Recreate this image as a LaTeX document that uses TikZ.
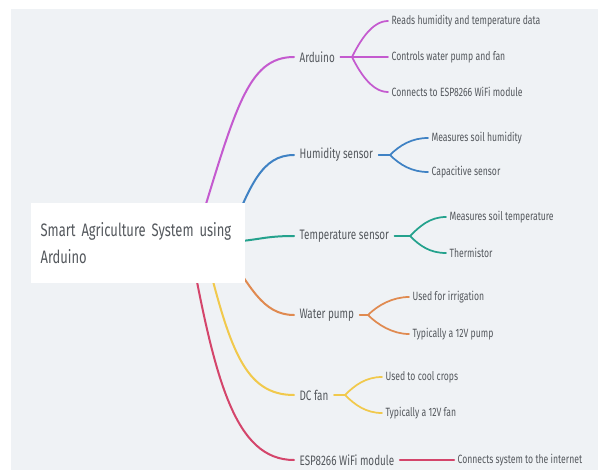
\documentclass[tikz,border=0pt]{standalone}
\usepackage{fontspec}
\setmainfont{Fira Sans}[FakeStretch=0.72]
\usetikzlibrary{positioning}
\definecolor{bg}{HTML}{EFF2F5}
\definecolor{txt}{HTML}{54585D}
\definecolor{ardc}{HTML}{C45ACF}
\definecolor{humc}{HTML}{3F82C4}
\definecolor{tempc}{HTML}{24A28D}
\definecolor{pumpc}{HTML}{E08A50}
\definecolor{fanc}{HTML}{F1C94C}
\definecolor{espc}{HTML}{D4456B}
\tikzstyle{rootbox} = [rectangle, fill=white, text=txt, align=left, text width=146pt, minimum height=60pt, inner xsep=7.25pt, font=\fontsize{13.5}{20.5}\selectfont]
\tikzstyle{topic} = [anchor=west, inner xsep=4pt, text=txt, font=\fontsize{10.3}{12}\selectfont]
\tikzstyle{leafnode} = [anchor=west, inner xsep=2.5pt, text=txt, font=\fontsize{9}{11}\selectfont]
\tikzstyle{branch} = [line width=1.5pt, line cap=round]
\tikzstyle{twig} = [line width=1.3pt, line cap=round]
\pgfdeclarelayer{back}
\pgfsetlayers{back,main}

\begin{document}
\begin{tikzpicture}[x=0.75pt, y=-0.75pt]
\useasboundingbox (0,0) rectangle (598,470);
\begin{pgfonlayer}{back}
\fill[bg] (11,9) rectangle (598,470);
\end{pgfonlayer}
\node (root) [rootbox] at (138,243) {\mbox{Smart Agriculture System using}\\Arduino};
% first level
\node (ard) [topic] at (294,57) {Arduino};
\node (hum) [topic] at (294,155) {Humidity sensor};
\node (temp) [topic] at (294,236) {Temperature sensor};
\node (pump) [topic] at (294,315) {Water pump};
\node (fan) [topic] at (294,395) {DC fan};
\node (esp) [topic] at (294,460) {ESP8266 WiFi module};
% second level
\node (ard1) [leafnode] at (388,21) {Reads humidity and temperature data};
\node (ard2) [leafnode] at (388,57) {Controls water pump and fan};
\node (ard3) [leafnode] at (388,92) {Connects to ESP8266 WiFi module};
\node (hum1) [leafnode] at (428,138) {Measures soil humidity};
\node (hum2) [leafnode] at (428,172) {Capacitive sensor};
\node (temp1) [leafnode] at (446,217) {Measures soil temperature};
\node (temp2) [leafnode] at (446,253) {Thermistor};
\node (pump1) [leafnode] at (409,297) {Used for irrigation};
\node (pump2) [leafnode] at (409,334) {Typically a 12V pump};
\node (fan1) [leafnode] at (382,377) {Used to cool crops};
\node (fan2) [leafnode] at (382,413) {Typically a 12V fan};
\node (esp1) [leafnode] at (454,460) {Connects system to the internet};
\coordinate (ardf) at (352,57);
\coordinate (humf) at (390,155);
\coordinate (tempf) at (410,236);
\coordinate (pumpf) at (368,315);
\coordinate (fanf) at (345,395);
\begin{pgfonlayer}{back}
\draw [branch, ardc] (root.center) ++(57,-3) .. controls +(40,-130) and +(-47,0) .. (ard.west);
\draw [branch, humc] (root.center) ++(90,-3) .. controls +(22,-55) and +(-32,0) .. (hum.west);
\draw [branch, tempc] (root.center) ++(92,-1) .. controls +(30,-2) and +(-30,0) .. (temp.west);
\draw [branch, pumpc] (root.center) ++(87,7) .. controls +(25,35) and +(-32,0) .. (pump.west);
\draw [branch, fanc] (root.center) ++(67,7) .. controls +(25,100) and +(-49,0) .. (fan.west);
\draw [branch, espc] (root.center) ++(52,2) .. controls +(25,135) and +(-59,0) .. (esp.west);
\end{pgfonlayer}
\draw [twig, ardc] (ard.east) -- (ard2.west);
\draw [twig, ardc] (ardf) .. controls +(8,-16) and +(-16,0) .. (ard1.west);
\draw [twig, ardc] (ardf) .. controls +(8,16) and +(-16,0) .. (ard3.west);
\draw [twig, humc] (hum.east) -- (humf);
\draw [twig, humc] (humf) .. controls +(10,-10) and +(-16,0) .. (hum1.west);
\draw [twig, humc] (humf) .. controls +(10,10) and +(-16,0) .. (hum2.west);
\draw [twig, tempc] (temp.east) -- (tempf);
\draw [twig, tempc] (tempf) .. controls +(10,-10) and +(-16,0) .. (temp1.west);
\draw [twig, tempc] (tempf) .. controls +(10,10) and +(-16,0) .. (temp2.west);
\draw [twig, pumpc] (pump.east) -- (pumpf);
\draw [twig, pumpc] (pumpf) .. controls +(10,-10) and +(-16,0) .. (pump1.west);
\draw [twig, pumpc] (pumpf) .. controls +(10,10) and +(-16,0) .. (pump2.west);
\draw [twig, fanc] (fan.east) -- (fanf);
\draw [twig, fanc] (fanf) .. controls +(10,-10) and +(-16,0) .. (fan1.west);
\draw [twig, fanc] (fanf) .. controls +(10,10) and +(-16,0) .. (fan2.west);
\draw [branch, espc] (esp.east) -- (esp1.west);
\end{tikzpicture}
\end{document}
